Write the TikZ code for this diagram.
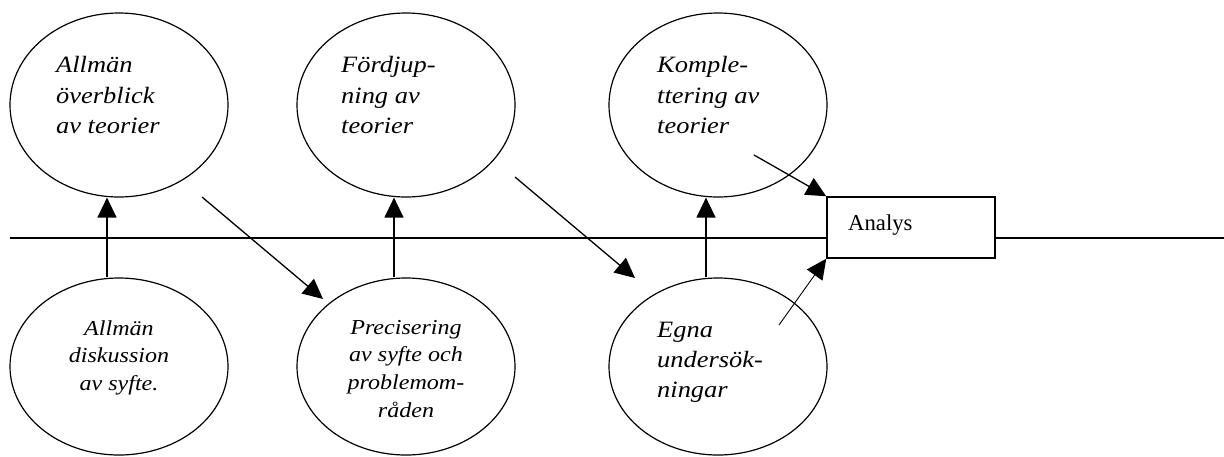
\documentclass[tikz,border=0pt]{standalone}
\usepackage{fontspec}
\setmainfont{Liberation Serif}[ItalicFeatures={FakeStretch=1.13}]
\usetikzlibrary{arrows.meta,shapes.geometric}

% text sizes used in the bubbles
\newcommand{\bigit}{\fontsize{23.4}{30.5}\selectfont\itshape}
\newcommand{\smallit}{\fontsize{21.3}{27.7}\selectfont\itshape}

\begin{document}
\begin{tikzpicture}[x=1pt,y=-1pt,
  bubble/.style={draw, ellipse, line width=1.2pt, inner sep=0pt,
    minimum width=218pt, minimum height=184pt},
  lowbubble/.style={bubble, minimum height=177pt},
  txt/.style={inner sep=0pt},
  flow/.style={line width=1.3pt, -{Triangle[length=20pt,width=19pt]}},
  thinflow/.style={line width=0.9pt, -{Triangle[length=20pt,width=19pt]}},
  axis/.style={line width=1.4pt},
]
\useasboundingbox (0,0) rectangle (1224,456);

% upper row: theory work
\node[bubble] (T1) at (119,105) {};
\node[bubble] (T2) at (406,105) {};
\node[bubble] (T3) at (718,105) {};

% lower row: purpose and own studies
\node[lowbubble] (B1) at (119,366.5) {};
\node[lowbubble] (B2) at (406,366.5) {};
\node[lowbubble] (B3) at (718,366.5) {};

% analysis box
\node[draw, line width=1.5pt, minimum width=168pt, minimum height=61pt, inner sep=0pt] (A) at (911,227.5) {};
\node[txt, anchor=base west] (alab) at (848,230) {\fontsize{22.7}{27}\selectfont Analys};

% bubble texts
\node[txt, anchor=base west] (t1) at (56,72.5) {\bigit\begin{tabular}[t]{@{}l@{}}Allmän\\överblick\\av teorier\end{tabular}};
\node[txt, anchor=base west] (t2) at (341,72.5) {\bigit\begin{tabular}[t]{@{}l@{}}Fördjup-\\ning av\\teorier\end{tabular}};
\node[txt, anchor=base west] (t3) at (657,72.5) {\bigit\begin{tabular}[t]{@{}l@{}}Komple-\\ttering av\\teorier\end{tabular}};
\node[txt, anchor=base] (b1) at (119,335) {\smallit\begin{tabular}[t]{@{}c@{}}Allmän\\diskussion\\av syfte.\end{tabular}};
\node[txt, anchor=base] (b2) at (406,334) {\smallit\begin{tabular}[t]{@{}c@{}}Precisering\\av syfte och\\problemom-\\råden\end{tabular}};
\node[txt, anchor=base west] (b3) at (657,337) {\fontsize{23.4}{30}\selectfont\itshape\begin{tabular}[t]{@{}l@{}}Egna\\undersök-\\ningar\end{tabular}};

% time line
\coordinate (L) at (10,238);
\coordinate (R) at (1224,238);
\draw[axis] (L) -- (L -| A.west);
\draw[axis] (A.east |- R) -- (R);

% upward steps
\draw[flow] ([xshift=-12pt]B1.north) -- ([xshift=-12pt]T1.south);
\draw[flow] ([xshift=-12pt]B2.north) -- ([xshift=-12pt]T2.south);
\draw[flow] ([xshift=-12pt]B3.north) -- ([xshift=-12pt]T3.south);

% diagonal steps
\coordinate (d1s) at (202,197);
\coordinate (d1e) at (323,299);
\coordinate (d2s) at (515,177);
\coordinate (d2e) at (635,278);
\coordinate (d3s) at (754,155);
\coordinate (d4s) at (779,325);
\draw[flow] (d1s) -- (d1e);
\draw[flow] (d2s) -- (d2e);
\draw[flow] (d3s) -- (A.north west);
\draw[thinflow] (d4s) -- (A.south west);
\end{tikzpicture}
\end{document}
